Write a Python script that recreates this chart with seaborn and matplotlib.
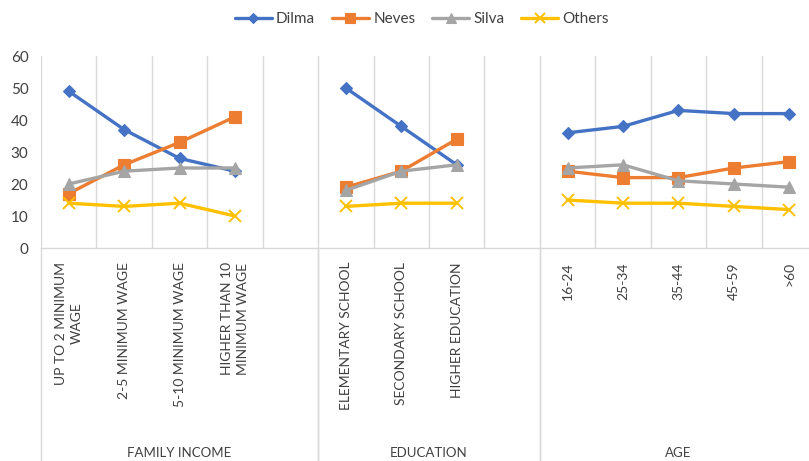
import matplotlib
matplotlib.use("Agg")
import matplotlib.pyplot as plt
from matplotlib.lines import Line2D
import pandas as pd
import seaborn as sns

# Survey breakdown: vote intention (%) by family income, education and age
groups = ["FAMILY INCOME", "EDUCATION", "AGE"]
income_labels = ["UP TO 2 MINIMUM\nWAGE", "2-5 MINIMUM WAGE", "5-10 MINIMUM WAGE",
                 "HIGHER THAN 10\nMINIMUM WAGE"]
education_labels = ["ELEMENTARY SCHOOL", "SECONDARY SCHOOL", "HIGHER EDUCATION"]
age_labels = ["16-24", "25-34", "35-44", "45-59", ">60"]

candidates = ["Dilma", "Neves", "Silva", "Others"]
dilma = [49, 37, 28, 24, 50, 38, 26, 36, 38, 43, 42, 42]
neves = [17, 26, 33, 41, 19, 24, 34, 24, 22, 22, 25, 27]
silva = [20, 24, 25, 25, 18, 24, 26, 25, 26, 21, 20, 19]
others = [14, 13, 14, 10, 13, 14, 14, 15, 14, 14, 13, 12]
y_ticks = [0, 10, 20, 30, 40, 50, 60]

colors = {"Dilma": "#4472C4", "Neves": "#ED7D31", "Silva": "#A5A5A5", "Others": "#FFC000"}
markers = {"Dilma": "D", "Neves": "s", "Silva": "^", "Others": "x"}
msizes = {"D": 5.8, "s": 8.2, "^": 8.2, "x": 8.2}
text_color = "#404040"
grid_color = "#D9D9D9"

sns.set_theme(style="white")
plt.rcParams["font.family"] = ["Lato", "DejaVu Sans"]

# Lay out category slots: each group is followed by an empty slot (except the last)
group_cats = [income_labels, education_labels, age_labels]
slot_pos, slot_group, slot_label, group_spans = [], [], [], []
slot = 0
for gi, labels in enumerate(group_cats):
    start = slot
    for lab in labels:
        slot_pos.append(slot)
        slot_group.append(groups[gi])
        slot_label.append(lab)
        slot += 1
    if gi < len(group_cats) - 1:
        slot += 1
    group_spans.append((start - 0.5, slot - 0.5))
n_slots = slot

series = {"Dilma": dilma, "Neves": neves, "Silva": silva, "Others": others}
rows = []
for cand, vals in series.items():
    for p, g, v in zip(slot_pos, slot_group, vals):
        rows.append({"pos": p, "group": g, "candidate": cand, "value": v})
df = pd.DataFrame(rows)

W, H = 809, 461
fig = plt.figure(figsize=(W / 100, H / 100), dpi=100)
ax_left, ax_right, ax_top, ax_bottom = 41, 817, 56, 248
ax = fig.add_axes([ax_left / W, 1 - ax_bottom / H,
                   (ax_right - ax_left) / W, (ax_bottom - ax_top) / H])

for cand in candidates:
    m = markers[cand]
    sns.lineplot(data=df[df["candidate"] == cand], x="pos", y="value",
                 units="group", estimator=None, color=colors[cand],
                 marker=m, markersize=msizes[m], markeredgecolor=colors[cand],
                 markeredgewidth=1.4 if m == "x" else 0.8,
                 linewidth=2.4, legend=False, ax=ax, zorder=3)

ax.set_xlim(-0.5, n_slots - 0.5)
ax.set_ylim(0, 60)
ax.set_yticks(y_ticks)
ax.set_yticklabels([str(t) for t in y_ticks], color=text_color, fontsize=11)
ax.tick_params(axis="y", length=0, pad=9)
ax.set_xticks([])
ax.set_xlabel("")
ax.set_ylabel("")
for s in ["top", "right", "left"]:
    ax.spines[s].set_visible(False)
ax.spines["bottom"].set_color(grid_color)
ax.spines["bottom"].set_linewidth(1.0)

# Vertical separators between category slots
for b in range(n_slots + 1):
    ax.axvline(b - 0.5, color=grid_color, lw=1.0, zorder=1)

# Group separators extend down through the label area
xtrans = ax.get_xaxis_transform()
depth = (H - ax_bottom) / (ax_bottom - ax_top)
for lo, hi in group_spans:
    for xb in (lo, hi):
        ax.plot([xb, xb], [0, -depth], transform=xtrans, color=grid_color,
                lw=1.0, clip_on=False, zorder=1)

# Category labels (rotated) and group labels
label_top = -(262 - ax_bottom) / (ax_bottom - ax_top)
for p, lab in zip(slot_pos, slot_label):
    ax.text(p, label_top, lab, transform=xtrans, rotation=90, ha="center",
            va="top", multialignment="center", fontsize=10, color=text_color,
            linespacing=1.35)
group_y = -(453 - ax_bottom) / (ax_bottom - ax_top)
for (lo, hi), g in zip(group_spans, groups):
    ax.text((lo + hi) / 2, group_y, g, transform=xtrans, ha="center",
            va="center", fontsize=9.5, color=text_color)

handles = [Line2D([], [], color=colors[c], lw=2.4, marker=markers[c],
                  markersize=msizes[markers[c]] * 0.9,
                  markeredgecolor=colors[c],
                  markeredgewidth=1.4 if markers[c] == "x" else 0.8)
           for c in candidates]
leg = fig.legend(handles, candidates, loc="center", ncol=4, frameon=False,
                 bbox_to_anchor=(422 / W, 1 - 19 / H), fontsize=11,
                 handlelength=2.4, handletextpad=0.3, columnspacing=1.1)
for t in leg.get_texts():
    t.set_color(text_color)

fig.savefig("out.png", dpi=100, facecolor="white")
